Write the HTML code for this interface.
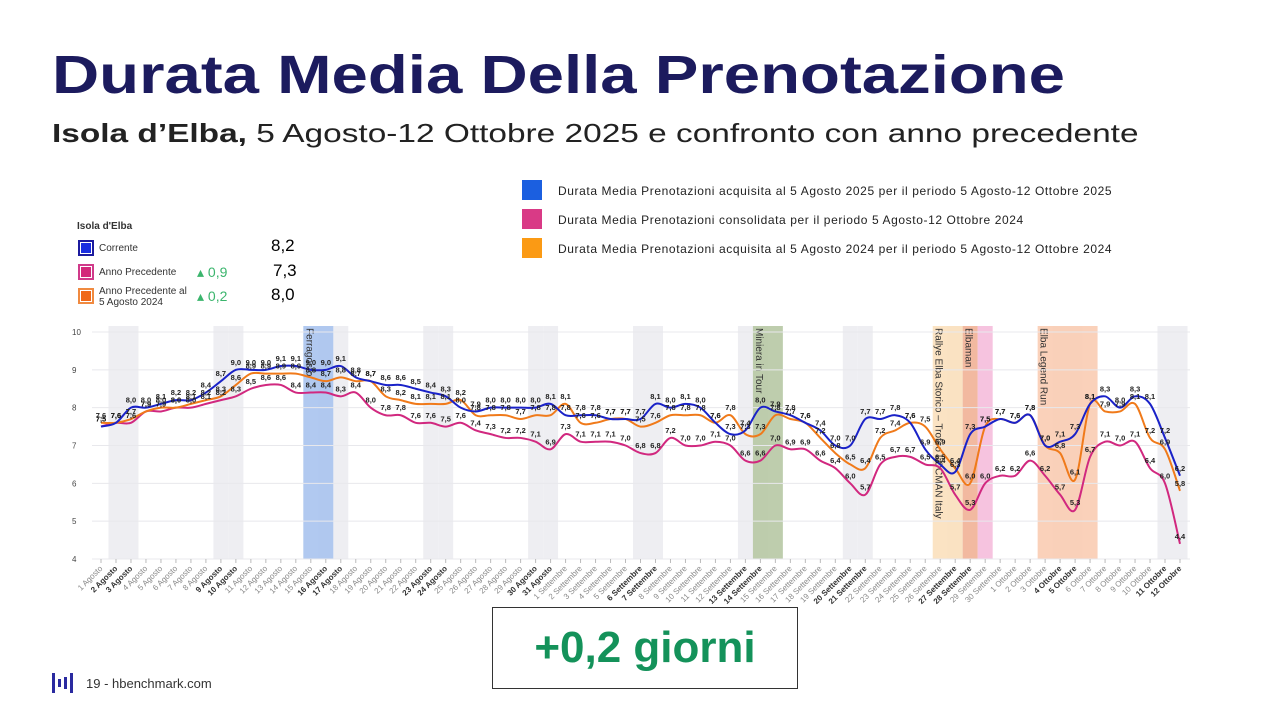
<!DOCTYPE html>
<html><head><meta charset="utf-8">
<style>
body{margin:0;width:1280px;height:720px;background:#fff;font-family:"Liberation Sans",sans-serif;overflow:hidden;position:relative}
.abs{position:absolute}
h1{position:absolute;left:52px;top:44px;margin:0;font-size:54px;font-weight:bold;color:#1c1b5e;transform-origin:0 0;transform:scaleX(1.21);white-space:nowrap}
.sub{left:52px;top:118px;font-size:26px;color:#222;transform-origin:0 0;transform:scaleX(1.285);white-space:nowrap}
.lg{font-size:12px;color:#222;letter-spacing:0.6px}
.sw{position:absolute;width:20px;height:20px}
.ml{font-size:10px;color:#333}
</style></head><body>
<h1>Durata Media Della Prenotazione</h1>
<div class="abs sub"><b>Isola d’Elba,</b> 5 Agosto-12 Ottobre 2025 e confronto con anno precedente</div>

<div class="abs" style="left:522px;top:180px"><div class="sw" style="background:#1b5fe0;left:0;top:0"></div><div class="abs lg" style="left:36px;top:4px;white-space:nowrap">Durata Media Prenotazioni acquisita al 5 Agosto 2025 per il periodo 5 Agosto-12 Ottobre 2025</div></div>
<div class="abs" style="left:522px;top:209px"><div class="sw" style="background:#d93a86;left:0;top:0"></div><div class="abs lg" style="left:36px;top:4px;white-space:nowrap">Durata Media Prenotazioni consolidata per il periodo 5 Agosto-12 Ottobre 2024</div></div>
<div class="abs" style="left:522px;top:238px"><div class="sw" style="background:#fb9a14;left:0;top:0"></div><div class="abs lg" style="left:36px;top:4px;white-space:nowrap">Durata Media Prenotazioni acquisita al 5 Agosto 2024 per il periodo 5 Agosto-12 Ottobre 2024</div></div>

<div class="abs ml" style="left:77px;top:221px;font-weight:bold">Isola d'Elba</div>
<div class="abs" style="left:78px;top:240px;width:12px;height:12px;border:2px solid #1c1b9e;background:#1a2ee0;box-shadow:inset 0 0 0 1px #fff"></div>
<div class="abs ml" style="left:99px;top:243px">Corrente</div>
<div class="abs" style="left:271px;top:236px;font-size:17px">8,2</div>
<div class="abs" style="left:78px;top:264px;width:12px;height:12px;border:2px solid #d03a8a;background:#d3287a;box-shadow:inset 0 0 0 1px #fff"></div>
<div class="abs ml" style="left:99px;top:267px">Anno Precedente</div>
<div class="abs" style="left:197px;top:264px;font-size:14px;color:#3bb56d">▴ 0,9</div>
<div class="abs" style="left:273px;top:261px;font-size:17px">7,3</div>
<div class="abs" style="left:78px;top:288px;width:12px;height:12px;border:2px solid #f08a40;background:#f06818;box-shadow:inset 0 0 0 1px #fff"></div>
<div class="abs ml" style="left:99px;top:286px;line-height:11px">Anno Precedente al<br>5 Agosto 2024</div>
<div class="abs" style="left:197px;top:288px;font-size:14px;color:#3bb56d">▴ 0,2</div>
<div class="abs" style="left:271px;top:285px;font-size:17px">8,0</div>

<svg class="abs" style="left:0;top:0" width="1280" height="720" id="chart"></svg>

<div class="abs" style="left:492px;top:607px;width:306px;height:82px;border:1px solid #333;box-sizing:border-box;text-align:center;font-size:44px;font-weight:bold;color:#14925a;line-height:80px">+0,2 giorni</div>
<div class="abs" style="left:52px;top:673px;width:22px;height:20px">
<svg width="22" height="20"><g fill="#2a2aa0"><rect x="0" y="0" width="3" height="20"/><rect x="6" y="6" width="3" height="8"/><rect x="12" y="4" width="3" height="12"/><rect x="18" y="0" width="3" height="20"/></g></svg></div>
<div class="abs" style="left:86px;top:676px;font-size:13px;color:#333">19 - hbenchmark.com</div>

<script>
const months=["Agosto","Settembre","Ottobre"];
const monthDays=[31,30,12];
const current=[7.5,7.6,8.0,8.0,8.1,8.2,8.2,8.4,8.7,9.0,9.0,9.0,9.1,9.1,9.0,9.0,9.1,8.8,8.7,8.6,8.6,8.5,8.4,8.3,8.0,7.9,8.0,8.0,8.0,8.0,8.1,
7.8,7.8,7.8,7.7,7.7,7.7,8.1,8.0,8.1,8.0,7.6,7.3,7.4,8.0,7.9,7.8,7.6,7.4,7.0,7.0,7.7,7.7,7.8,7.6,6.9,6.5,6.3,7.3,7.5,7.7,
7.6,7.8,7.0,7.1,7.3,8.1,8.3,8.0,8.3,8.1,7.2,6.2];
const prevAtDate=[7.6,7.6,7.7,7.9,8.0,8.0,8.1,8.2,8.3,8.6,8.9,8.9,8.9,8.9,8.8,8.7,8.8,8.7,8.7,8.3,8.2,8.1,8.1,8.1,8.2,7.8,7.8,7.8,7.7,7.8,7.8,
8.1,7.6,7.6,7.7,7.7,7.5,7.6,7.8,7.8,7.8,7.6,7.8,7.3,7.3,7.8,7.7,7.6,7.2,6.8,6.5,6.4,7.2,7.4,7.6,7.5,6.9,6.4,6.0,7.5,7.7,
7.6,7.8,7.0,6.8,6.1,8.1,7.9,7.9,8.1,7.2,6.9,5.8];
const previous=[7.5,7.6,7.6,7.9,7.9,8.0,8.0,8.1,8.2,8.3,8.5,8.6,8.6,8.4,8.4,8.4,8.3,8.4,8.0,7.8,7.8,7.6,7.6,7.5,7.6,7.4,7.3,7.2,7.2,7.1,6.9,
7.3,7.1,7.1,7.1,7.0,6.8,6.8,7.2,7.0,7.0,7.1,7.0,6.6,6.6,7.0,6.9,6.9,6.6,6.4,6.0,5.7,6.5,6.7,6.7,6.5,6.4,5.7,5.3,6.0,6.2,
6.2,6.6,6.2,5.7,5.3,6.7,7.1,7.0,7.1,6.4,6.0,4.4];
const yTicks=[4,5,6,7,8,9,10];
const weekends=[1,2,8,9,15,16,22,23,29,30,36,37,43,44,50,51,57,58,64,65,71,72];
const events=[{from:14,to:15,label:"Ferragosto",color:"#a9c3ee"},{from:44,to:45,label:"Miniera in Tour",color:"#b7c8a4"},{from:56,to:57,label:"Rallye Elba Storico – Trofeo LOCMAN Italy",color:"#fbe0bc"},{from:58,to:58,label:"Elbaman",color:"#f2b397"},{from:59,to:59,label:"",color:"#f5bddb"},{from:63,to:66,label:"Elba Legend Run",color:"#f9ccb3"}];

const svg=document.getElementById('chart');
const NS="http://www.w3.org/2000/svg";
const X0=101,X1=1180,Y4=559,Y10=332;
const n=current.length;
const xs=i=>X0+(X1-X0)*i/(n-1);
const ys=v=>Y4-(v-4)*(Y4-Y10)/6;
const step=(X1-X0)/(n-1);
function mk(t,a,p){const e=document.createElementNS(NS,t);for(const k in a)e.setAttribute(k,a[k]);(p||svg).appendChild(e);return e;}
weekends.forEach(i=>{
 const r=mk('rect',{x:xs(i)-step/2,y:Y10-6,width:step,height:Y4-Y10+6,fill:'#eeeef2'});
 
 
});
events.forEach(ev=>{
 const r=mk('rect',{x:xs(ev.from)-step/2,y:Y10-6,width:step*(ev.to-ev.from+1),height:Y4-Y10+6,fill:ev.color,opacity:0.9});
 
 
 if(ev.label){const tx=xs(ev.from)-step/2+3;const t=mk('text',{x:tx,y:Y10-4,'font-size':10,fill:'#333',transform:`rotate(90 ${tx} ${Y10-4})`});t.textContent=ev.label;
 
 }
});
yTicks.forEach(v=>{
 const l=mk('line',{x1:92,x2:1190,y1:ys(v),y2:ys(v),stroke:'#e8e8ec','stroke-width':1});
 
 
 const t=mk('text',{x:72,y:ys(v)+3,'font-size':8,fill:'#444'});t.textContent=v;
 
 
});
let idx=0;
months.forEach((m,mi)=>{for(let d=1;d<=monthDays[mi];d++){
 const x=xs(idx),y=Y4+10;const we=weekends.includes(idx);
 mk('line',{x1:x,x2:x,y1:Y4,y2:Y4+4,stroke:'#bbb'});
 const t=mk('text',{x:x+2,y:y,'font-size':8,fill:we?'#333':'#888','font-weight':we?'bold':'normal','text-anchor':'end',transform:`rotate(-45 ${x+2} ${y})`});
 t.textContent=d+" "+m;
 
 
 idx++;}});
function path(arr){const p=arr.map((v,i)=>[xs(i),ys(v)]);let d=`M${p[0][0]},${p[0][1]}`;
 for(let i=0;i<p.length-1;i++){const p0=p[Math.max(0,i-1)],p1=p[i],p2=p[i+1],p3=p[Math.min(p.length-1,i+2)];
 const c1=[p1[0]+(p2[0]-p0[0])/6,p1[1]+(p2[1]-p0[1])/6],c2=[p2[0]-(p3[0]-p1[0])/6,p2[1]-(p3[1]-p1[1])/6];
 d+=` C${c1[0]},${c1[1]} ${c2[0]},${c2[1]} ${p2[0]},${p2[1]}`;}return d;}
[[previous,'#d1287f','previous-line'],[prevAtDate,'#f07a1a','previous-at-date-line'],[current,'#1a22c8','current-line']].forEach(([a,c,nm])=>{
 const e=mk('path',{d:path(a),fill:'none',stroke:c,'stroke-width':2});
 
 
});
[[previous,'previous-label'],[prevAtDate,'previous-at-date-label'],[current,'current-label']].forEach(([a,nm])=>{
 a.forEach((v,i)=>{const t=mk('text',{x:xs(i),y:ys(v)-5,'font-size':7.5,'font-weight':'bold',fill:'#222','text-anchor':'middle'});
 t.textContent=v.toFixed(1).replace('.',',');
 
 });
});
</script>
</body></html>
